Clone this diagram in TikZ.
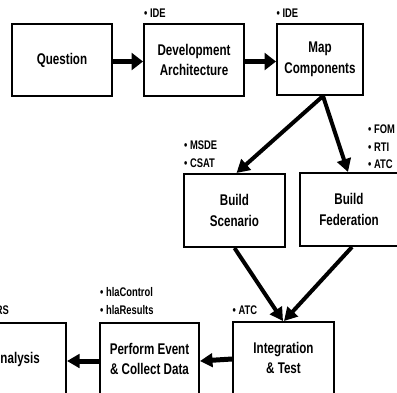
\documentclass[tikz,border=0pt]{standalone}
\usepackage{fontspec}
\setmainfont{Liberation Sans}[FakeStretch=0.75]
\usetikzlibrary{arrows.meta}
\tikzset{
  box/.style={draw=black, line width=2pt, fill=white, minimum width=100pt, minimum height=72pt,
    align=center, inner sep=0pt, font=\fontsize{15.5}{20.5}\selectfont\bfseries},
  lbl/.style={anchor=base west, inner sep=0pt, font=\fontsize{12.5}{14}\selectfont\bfseries},
  toparrow/.style={line width=5pt, -{Triangle[length=11.5pt,width=17pt]}},
  lowarrow/.style={line width=5pt, -{Triangle[length=12.5pt,width=13.5pt]}},
  diagarrow/.style={line width=4pt, -{Triangle[length=13pt,width=14pt]}}
}
\begin{document}
\begin{tikzpicture}[x=1pt, y=-1pt]
\clip (0,0) rectangle (397,392);
% boxes
\node[box] (q) at (62,60) {Question};
\node[box] (dev) at (194,60) {Development\\Architecture};
\node[box, minimum width=86pt, minimum height=71pt] (map) at (320,59.5) {Map\\Components};
\node[box, minimum width=101pt, minimum height=73pt] (scen) at (234.5,210.5) {Build\\Scenario};
\node[box, minimum width=98pt, minimum height=73pt] (fed) at (349,209.5) {Build\\Federation};
\node[box, minimum width=101pt] (integ) at (283.5,358) {Integration\\\& Test};
\node[box, minimum width=99pt] (perf) at (149.5,359) {Perform Event\\\& Collect Data};
\node[box] (ana) at (16,359) {Analysis};
% labels
\node[lbl] (l1) at (144,17.5) {\textbullet\ IDE};
\node[lbl] (l2) at (276.5,17.5) {\textbullet\ IDE};
\node[lbl] (l3) at (184,149) {\textbullet\ MSDE};
\node[lbl] (l4) at (184,167.5) {\textbullet\ CSAT};
\node[lbl] (l5) at (368,133.5) {\textbullet\ FOM};
\node[lbl] (l6) at (368,151) {\textbullet\ RTI};
\node[lbl] (l7) at (368,168.5) {\textbullet\ ATC};
\node[lbl] (l8) at (232.5,314.5) {\textbullet\ ATC};
\node[lbl] (l9) at (100,296.5) {\textbullet\ hlaControl};
\node[lbl] (l10) at (100,314.5) {\textbullet\ hlaResults};
\node[lbl, anchor=base east] (l11) at (9,314.5) {\textbullet\ RS};
% arrows
\draw[toparrow] ([yshift=-1.5pt]q.east) -- ([yshift=-1.5pt]dev.west);
\draw[toparrow] ([yshift=-1.5pt]dev.east) -- ([yshift=-2pt]map.west);
\draw[diagarrow] ([xshift=3pt]map.south) -- ([xshift=2pt]scen.north);
\draw[diagarrow] ([xshift=3pt]map.south) -- ([xshift=-1pt]fed.north);
\draw[diagarrow] (scen.south) -- ([xshift=-0.5pt]integ.north);
\draw[diagarrow] ([xshift=3pt]fed.south) -- ([xshift=0.5pt]integ.north);
\draw[lowarrow] ([yshift=-1pt]integ.west) -- ([yshift=-2pt]perf.east);
\draw[lowarrow] ([yshift=-2pt]perf.west) -- ([yshift=-2pt]ana.east);
\end{tikzpicture}
\end{document}
